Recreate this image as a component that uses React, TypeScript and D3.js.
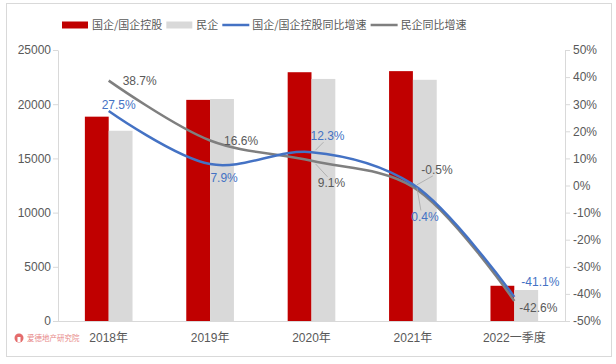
import React, { useEffect, useRef } from "react";
import * as d3 from "d3";

const categories = ["2018年", "2019年", "2020年", "2021年", "2022一季度"];
const soeValues = [18850, 20400, 22950, 23050, 3250];
const privateValues = [17550, 20480, 22330, 22250, 2860];
const soeGrowth = [27.5, 7.9, 12.3, 0.4, -41.1];
const privateGrowth = [38.7, 16.6, 9.1, -0.5, -42.6];
const leftTicks = [0, 5000, 10000, 15000, 20000, 25000];
const rightTicks = [-50, -40, -30, -20, -10, 0, 10, 20, 30, 40, 50];

// label offsets from the point (dx, dy) and whether a leader line is drawn
const soeLabelPos = [[10, -6, 0], [14, 14, 0], [16, -16, 1], [12, 32, 1], [26, -15, 0]];
const privateLabelPos = [[31, 0, 0], [31, 0, 0], [20, 22, 1], [24, -17, 1], [24, 7, 0]];

const RED = "#C00000";
const LIGHT = "#D9D9D9";
const BLUE = "#4472C4";
const GRAY = "#7F7F7F";
const TEXT = "#595959";
const FONT = "'Liberation Sans', 'Noto Sans CJK SC', sans-serif";

const W = 616;
const H = 364;
const m = { left: 58, right: 565, top: 50, bottom: 321 };

export default function App() {
  const ref = useRef<SVGSVGElement>(null);

  useEffect(() => {
    const svg = d3.select(ref.current);
    svg.selectAll("*").remove();
    svg.style("font-family", FONT);

    svg
      .append("rect")
      .attr("x", 6.5)
      .attr("y", 3.5)
      .attr("width", 605)
      .attr("height", 353)
      .attr("fill", "white")
      .attr("stroke", "#D9D9D9");

    const x = d3
      .scaleBand()
      .domain(categories)
      .range([m.left, m.right])
      .paddingInner(0.53)
      .paddingOuter(0.265);
    const xs = d3.scaleBand().domain(["soe", "private"]).range([0, x.bandwidth()]);
    const yL = d3.scaleLinear().domain([0, 25000]).range([m.bottom, m.top]);
    const yR = d3.scaleLinear().domain([-50, 50]).range([m.bottom, m.top]);
    const cx = (i: number) => (x(categories[i]) as number) + x.bandwidth() / 2;

    // axes
    const gl = svg
      .append("g")
      .attr("transform", `translate(${m.left},0)`)
      .call(
        d3
          .axisLeft(yL)
          .tickValues(leftTicks)
          .tickSize(5)
          .tickSizeOuter(0)
          .tickPadding(2)
          .tickFormat(d3.format("d"))
      );
    const gr = svg
      .append("g")
      .attr("transform", `translate(${m.right},0)`)
      .call(
        d3
          .axisRight(yR)
          .tickValues(rightTicks)
          .tickSize(5)
          .tickSizeOuter(0)
          .tickPadding(3)
          .tickFormat((d) => d + "%")
      );
    [gl, gr].forEach((g) => {
      g.select(".domain").attr("stroke", LIGHT);
      g.selectAll(".tick line").attr("stroke", LIGHT);
      g.selectAll(".tick text")
        .attr("fill", TEXT)
        .style("font-size", "12px")
        .style("font-family", FONT);
    });

    svg
      .append("line")
      .attr("x1", m.left)
      .attr("x2", m.right)
      .attr("y1", m.bottom + 0.5)
      .attr("y2", m.bottom + 0.5)
      .attr("stroke", LIGHT);

    svg
      .append("g")
      .selectAll("text")
      .data(categories)
      .join("text")
      .attr("x", (d, i) => cx(i))
      .attr("y", 342)
      .attr("text-anchor", "middle")
      .attr("fill", TEXT)
      .style("font-size", "12px")
      .text((d) => d);

    // bars
    svg
      .append("g")
      .selectAll("rect")
      .data(soeValues)
      .join("rect")
      .attr("x", (d, i) => (x(categories[i]) as number) + (xs("soe") as number))
      .attr("y", (d) => yL(d))
      .attr("width", xs.bandwidth())
      .attr("height", (d) => m.bottom - yL(d))
      .attr("fill", RED);
    svg
      .append("g")
      .selectAll("rect")
      .data(privateValues)
      .join("rect")
      .attr("x", (d, i) => (x(categories[i]) as number) + (xs("private") as number))
      .attr("y", (d) => yL(d))
      .attr("width", xs.bandwidth())
      .attr("height", (d) => m.bottom - yL(d))
      .attr("fill", LIGHT);

    // lines
    const line = d3
      .line<number>()
      .x((d, i) => cx(i))
      .y((d) => yR(d))
      .curve(d3.curveCatmullRom.alpha(0.5));

    svg
      .append("path")
      .datum(privateGrowth)
      .attr("d", line)
      .attr("fill", "none")
      .attr("stroke", GRAY)
      .attr("stroke-width", 2.5);
    svg
      .append("path")
      .datum(soeGrowth)
      .attr("d", line)
      .attr("fill", "none")
      .attr("stroke", BLUE)
      .attr("stroke-width", 2.5);

    // labels
    const drawLabels = (vals: number[], pos: number[][], color: string) => {
      vals.forEach((v, i) => {
        const px = cx(i);
        const py = yR(v);
        const [dx, dy, leader] = pos[i];
        if (leader) {
          svg
            .append("line")
            .attr("x1", px + (dx > 0 ? 4 : -4))
            .attr("y1", py + (dy > 0 ? 3 : -2))
            .attr("x2", px + dx - 4)
            .attr("y2", py + dy + (dy > 0 ? -6 : 6))
            .attr("stroke", "#A6A6A6")
            .attr("stroke-width", 0.8);
        }
        svg
          .append("text")
          .attr("x", px + dx)
          .attr("y", py + dy)
          .attr("dy", "0.35em")
          .attr("text-anchor", "middle")
          .attr("fill", color)
          .style("font-size", "12px")
          .text(v.toFixed(1) + "%");
      });
    };
    drawLabels(privateGrowth, privateLabelPos, TEXT);
    drawLabels(soeGrowth, soeLabelPos, BLUE);

    // legend
    const legend = [
      { name: "国企/国企控股", color: RED, type: "rect" },
      { name: "民企", color: LIGHT, type: "rect" },
      { name: "国企/国企控股同比增速", color: BLUE, type: "line" },
      { name: "民企同比增速", color: GRAY, type: "line" },
    ];
    let lx = 62;
    const ly = 25;
    legend.forEach((item) => {
      if (item.type === "rect") {
        svg
          .append("rect")
          .attr("x", lx)
          .attr("y", ly - 3.5)
          .attr("width", 26)
          .attr("height", 7)
          .attr("fill", item.color);
      } else {
        svg
          .append("line")
          .attr("x1", lx)
          .attr("x2", lx + 27)
          .attr("y1", ly)
          .attr("y2", ly)
          .attr("stroke", item.color)
          .attr("stroke-width", 2.5);
      }
      const t = svg
        .append("text")
        .attr("x", lx + 30)
        .attr("y", ly)
        .attr("dy", "0.35em")
        .attr("fill", TEXT)
        .style("font-size", "11px")
        .style("font-family", "'Noto Sans CJK SC', sans-serif")
        .text(item.name);
      const w = (t.node() as SVGTextElement).getComputedTextLength();
      lx += 30 + w + 4;
    });

    // watermark
    svg.append("circle").attr("cx", 19).attr("cy", 338).attr("r", 4.5).attr("fill", "#E46C6C");
    svg.append("rect").attr("x", 17.5).attr("y", 337).attr("width", 3).attr("height", 5).attr("fill", "white");
    svg
      .append("text")
      .attr("x", 27)
      .attr("y", 338)
      .attr("dy", "0.35em")
      .attr("fill", "#E88A8A")
      .style("font-size", "7.5px")
      .style("font-family", "'Noto Sans CJK SC', sans-serif")
      .text("爱德地产研究院");
  }, []);

  return (
    <svg
      ref={ref}
      width={W}
      height={H}
      style={{ position: "absolute", left: 0, top: 0, background: "white" }}
    />
  );
}
